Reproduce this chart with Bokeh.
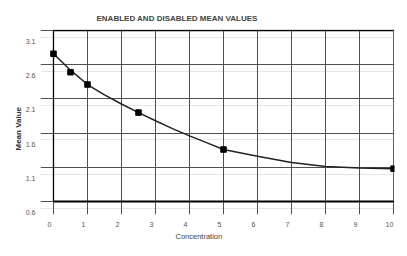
from bokeh.plotting import figure
from bokeh.models import LinearAxis, Range1d, FixedTicker, Grid, Title
from bokeh.embed import file_html
from bokeh.resources import INLINE

# data
conc = [0, 0.5, 1, 2.5, 5, 10]
mean_value = [2.76, 2.49, 2.31, 1.90, 1.36, 1.08]

curve_x = [0, 0.5, 1, 1.5, 2, 2.5, 3, 3.5, 4, 4.5, 5, 6, 7, 8, 9, 10]
curve_y = [2.76, 2.52, 2.31, 2.16, 2.025, 1.90, 1.78, 1.665, 1.56, 1.46, 1.36, 1.26, 1.17, 1.11, 1.09, 1.08]

x_ticks = [0, 1, 2, 3, 4, 5, 6, 7, 8, 9, 10]
x_tick_labels = ["0", "1", "2", "3", "4", "5", "6", "7", "8", "9", "10"]
y_ticks = [3.1, 2.6, 2.1, 1.6, 1.1, 0.6]
y_tick_labels = ["3.1", "2.6", "2.1", "1.6", "1.1", "0.6"]

title_text = "ENABLED AND DISABLED MEAN VALUES"
x_title = "Concentration"
y_title = "Mean Value"

FONT = "Liberation Sans"
GRID = "#505050"
LABEL = "#555555"

p = figure(width=407, height=256,
           x_range=Range1d(-0.382, 10.029), y_range=Range1d(0.41, 3.1146),
           x_axis_location=None, y_axis_location=None,
           output_backend="svg", toolbar_location=None,
           min_border_left=40, min_border_right=13, min_border_top=29, min_border_bottom=42)
p.outline_line_color = None
p.background_fill_color = "white"
p.border_fill_color = "white"

# label axes on slightly shifted ranges (labels sit a little off the grid lines, as in the original)
p.extra_x_ranges = {"xlab": Range1d(-0.264, 10.147)}
p.extra_y_ranges = {"ylab": Range1d(0.57, 3.2746)}

xa = LinearAxis(x_range_name="xlab", ticker=FixedTicker(ticks=x_ticks),
                major_label_overrides={t: s for t, s in zip(x_ticks, x_tick_labels)})
ya = LinearAxis(y_range_name="ylab", ticker=FixedTicker(ticks=y_ticks),
                major_label_overrides={t: s for t, s in zip(y_ticks, y_tick_labels)})
for ax in (xa, ya):
    ax.axis_line_color = None
    ax.major_tick_line_color = None
    ax.minor_tick_line_color = None
    ax.major_tick_in = 0
    ax.major_tick_out = 0
    ax.major_label_text_font = FONT
    ax.major_label_text_font_size = "7px"
    ax.major_label_text_color = LABEL
xa.major_label_standoff = 7
ya.major_label_standoff = 5
p.add_layout(xa, "below")
p.add_layout(ya, "left")

p.add_layout(Title(text=x_title, align="left", offset=135, standoff=0,
                   text_font=FONT, text_font_size="7.5px", text_font_style="normal",
                   text_color="#444444"), "below")
p.add_layout(Title(text=y_title, align="left", offset=64, standoff=0,
                   text_font=FONT, text_font_size="8px", text_font_style="bold",
                   text_color="#333333"), "left")

p.title.text = title_text
p.title.align = "left"
p.title.offset = 56
p.title.text_font = FONT
p.title.text_font_size = "8px"
p.title.text_font_style = "bold"
p.title.text_color = "#444444"
p.title.standoff = 14

p.add_layout(Grid(dimension=0, ticker=FixedTicker(ticks=x_ticks), bounds=(y_ticks[-1], y_ticks[0]),
                  grid_line_color=GRID, grid_line_width=1))
p.add_layout(Grid(dimension=1, ticker=FixedTicker(ticks=y_ticks), bounds=(x_ticks[0], x_ticks[-1]),
                  grid_line_color=GRID, grid_line_width=1))

# frame of the plotting area
p.line([x_ticks[0], x_ticks[0], x_ticks[-1]], [y_ticks[-1], y_ticks[0], y_ticks[0]],
       line_color="black", line_width=1.3)
p.line([x_ticks[-1], x_ticks[-1]], [y_ticks[0], y_ticks[-1]], line_color="#606060", line_width=1)
p.line([x_ticks[0], x_ticks[-1]], [y_ticks[-1], y_ticks[-1]], line_color="black", line_width=2)

p.line(curve_x, curve_y, line_color="#222222", line_width=1.5)
p.scatter(conc, mean_value, marker="square", size=5.5, fill_color="black", line_color="black")

open("out.html", "w").write(file_html(p, INLINE))
